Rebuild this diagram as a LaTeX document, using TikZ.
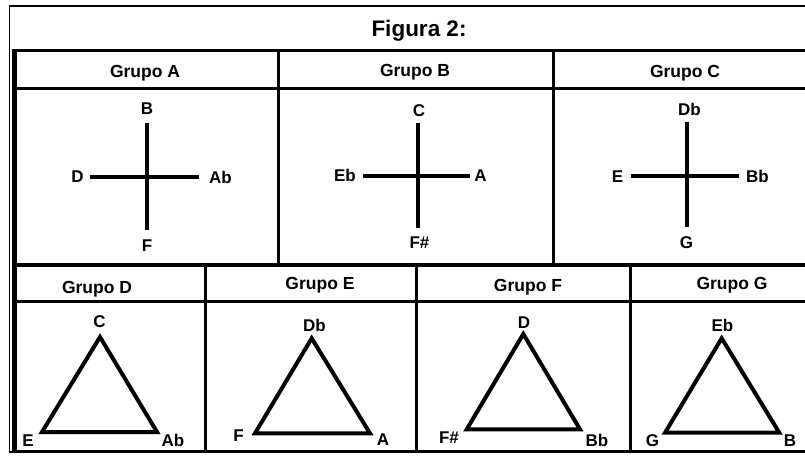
\documentclass[tikz,border=0pt]{standalone}
\usepackage{fontspec}
\setmainfont{Liberation Sans}
\begin{document}
\begin{tikzpicture}[x=1pt,y=-1pt,
  frame/.style={line width=1.5pt},
  rule/.style={line width=3pt},
  crossline/.style={line width=3.8pt},
  tri/.style={line width=4pt, line join=miter},
  lbl/.style={font=\bfseries\fontsize{17}{17}\selectfont, inner sep=0pt, text height=12.2pt, text depth=0pt},
  hdr/.style={font=\bfseries\fontsize{17.5}{17.5}\selectfont, inner sep=0pt, text height=12.5pt, text depth=0pt},
  ttl/.style={font=\bfseries\fontsize{22.5}{22.5}\selectfont, inner sep=0pt, text height=16.1pt, text depth=0pt}]
\useasboundingbox (0,0) rectangle (805,455);
\clip (0,0) rectangle (805,455);
\fill[white] (0,0) rectangle (805,455);
% outer thin frame
\draw[frame] (820,6) -- (9.5,6) -- (9.5,452) -- (820,452);
% table borders
\draw[line width=2.6pt] (13.2,49) -- (13.2,452);
\draw[line width=1.8pt] (16.3,49) -- (16.3,452);
\draw[line width=3.5pt] (12,50.5) -- (820,50.5);
\draw[rule] (12,88) -- (820,88);
\draw[line width=4pt] (12,264.5) -- (820,264.5);
\draw[rule] (12,301.5) -- (820,301.5);
\draw[rule] (12,451) -- (820,451);
\draw[rule] (278.5,50.5) -- (278.5,264.5);
\draw[rule] (553.5,50.5) -- (553.5,264.5);
\draw[rule] (205,264.5) -- (205,451);
\draw[rule] (416,264.5) -- (416,451);
\draw[rule] (630,264.5) -- (630,451);
% title and headers
\node[ttl] (title) at (419,28) {Figura 2:};
\node[hdr] (hA) at (145,71.5) {Grupo A};
\node[hdr] (hB) at (415,70) {Grupo B};
\node[hdr] (hC) at (685,71) {Grupo C};
\node[hdr] (hD) at (97,287) {Grupo D};
\node[hdr] (hE) at (320,283) {Grupo E};
\node[hdr] (hF) at (528,285) {Grupo F};
\node[hdr] (hG) at (732,283) {Grupo G};
% Grupo A cross
\node[lbl] (aB) at (147,108.5) {B};
\node[lbl] (aF) at (147,245.5) {F};
\node[lbl] (aD) at (77.5,176.5) {D};
\node[lbl] (aAb) at (220.5,177) {Ab};
\coordinate (aT) at (147,123); \coordinate (aBo) at (147,230);
\coordinate (aL) at (90,177); \coordinate (aR) at (199,177);
\draw[crossline] (aT) -- (aBo);
\draw[crossline] (aL) -- (aR);
% Grupo B cross
\node[lbl] (bC) at (419,110.5) {C};
\node[lbl] (bFs) at (419.5,242.5) {F\#};
\node[lbl] (bEb) at (345,175.5) {Eb};
\node[lbl] (bA) at (480.5,175.5) {A};
\coordinate (bT) at (418,123); \coordinate (bBo) at (418,228);
\coordinate (bL) at (363,176); \coordinate (bR) at (470,176);
\draw[crossline] (bT) -- (bBo);
\draw[crossline] (bL) -- (bR);
% Grupo C cross
\node[lbl] (cDb) at (689.5,109) {Db};
\node[lbl] (cG) at (686.5,242) {G};
\node[lbl] (cE) at (617.5,176) {E};
\node[lbl] (cBb) at (757.5,176) {Bb};
\coordinate (cT) at (687,122); \coordinate (cBo) at (687,227);
\coordinate (cL) at (631,176); \coordinate (cR) at (739,176);
\draw[crossline] (cT) -- (cBo);
\draw[crossline] (cL) -- (cR);
% Grupo D triangle
\node[lbl] (dC) at (99.5,321.5) {C};
\node[lbl] (dE) at (28,440) {E};
\node[lbl] (dAb) at (173,440) {Ab};
\coordinate (d1) at (100,337); \coordinate (d2) at (42,432); \coordinate (d3) at (157,432);
\draw[tri] (d1) -- (d2) -- (d3) -- cycle;
% Grupo E triangle
\node[lbl] (eDb) at (314.5,325) {Db};
\node[lbl] (eF) at (238.5,435.5) {F};
\node[lbl] (eA) at (383,439.5) {A};
\coordinate (e1) at (311.7,338.3); \coordinate (e2) at (255,433.3); \coordinate (e3) at (370,433.3);
\draw[tri] (e1) -- (e2) -- (e3) -- cycle;
% Grupo F triangle
\node[lbl] (fD) at (524,322) {D};
\node[lbl] (fFs) at (449,437) {F\#};
\node[lbl] (fBb) at (597,440) {Bb};
\coordinate (f1) at (523.3,334); \coordinate (f2) at (466.7,429.3); \coordinate (f3) at (580,429.3);
\draw[tri] (f1) -- (f2) -- (f3) -- cycle;
% Grupo G triangle
\node[lbl] (gEb) at (722.5,325) {Eb};
\node[lbl] (gG) at (652.5,440) {G};
\node[lbl] (gB) at (790,440) {B};
\coordinate (g1) at (721.7,338.3); \coordinate (g2) at (665,432.7); \coordinate (g3) at (779.3,432.7);
\draw[tri] (g1) -- (g2) -- (g3) -- cycle;
\end{tikzpicture}
\end{document}
